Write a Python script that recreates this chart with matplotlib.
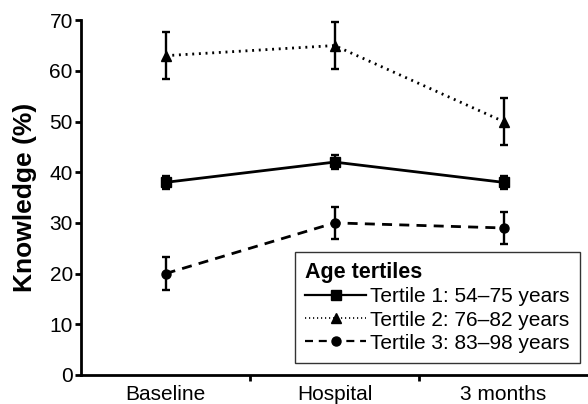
import matplotlib
matplotlib.use("Agg")
import matplotlib.pyplot as plt
from matplotlib.lines import Line2D

plt.rcParams["font.family"] = ["Liberation Sans", "DejaVu Sans"]

timepoints = ["Baseline", "Hospital", "3 months"]
tertile1 = [38, 42, 38]
tertile1_err = [1.3, 1.3, 1.3]
tertile2 = [63, 65, 50]
tertile2_err = [4.7, 4.7, 4.7]
tertile3 = [20, 30, 29]
tertile3_err = [3.2, 3.2, 3.2]
labels = ["Tertile 1: 54\u201375 years", "Tertile 2: 76\u201382 years", "Tertile 3: 83\u201398 years"]

fig = plt.figure(figsize=(5.88, 4.04), dpi=100)
ax = fig.add_axes([0.138, 0.072, 0.862, 0.878])

x = list(range(len(timepoints)))
dotted = (0, (0.7, 1.7))
styles = [
    ("s", "-", tertile1, tertile1_err),
    ("^", dotted, tertile2, tertile2_err),
    ("o", (0, (3.6, 2.6)), tertile3, tertile3_err),
]
handles = []
for (marker, ls, vals, err), lab in zip(styles, labels):
    ax.errorbar(x, vals, yerr=err, marker=marker, linestyle=ls, color="black", lw=2.0,
                capsize=2.8, elinewidth=1.7, capthick=1.7, markersize=6.5)
    handles.append(Line2D([], [], color="black", marker=marker, linestyle=ls,
                          lw=1.2 if ls == dotted else 1.6, markersize=6.5, label=lab))

ax.set_xlim(-0.5, 2.5)
ax.set_ylim(0, 70)
ax.set_yticks(range(0, 71, 10))
ax.set_xticks(x)
ax.set_xticklabels(timepoints)
ax.set_xticks([0.5, 1.5], minor=True)
ax.tick_params(axis="x", which="major", length=0, labelsize=15, pad=7)
ax.tick_params(axis="x", which="minor", length=4, width=2)
ax.tick_params(axis="y", length=4, width=2, labelsize=15, pad=2)
ax.set_ylabel("Knowledge (%)", fontsize=19, fontweight="bold", labelpad=9)

for side in ["top", "right"]:
    ax.spines[side].set_visible(False)
for side in ["left", "bottom"]:
    ax.spines[side].set_linewidth(2.0)

leg = ax.legend(handles=handles, loc="upper left", bbox_to_anchor=(0.422, 0.347),
                title="Age tertiles", fontsize=15, frameon=True, fancybox=False,
                edgecolor="black", handlelength=2.9, handletextpad=0.2, borderpad=0.5,
                borderaxespad=0, labelspacing=0.2, alignment="left")
leg.get_title().set_fontweight("bold")
leg.get_title().set_fontsize(15.5)
leg.get_frame().set_linewidth(1.0)

fig.savefig("out.png", dpi=100)
